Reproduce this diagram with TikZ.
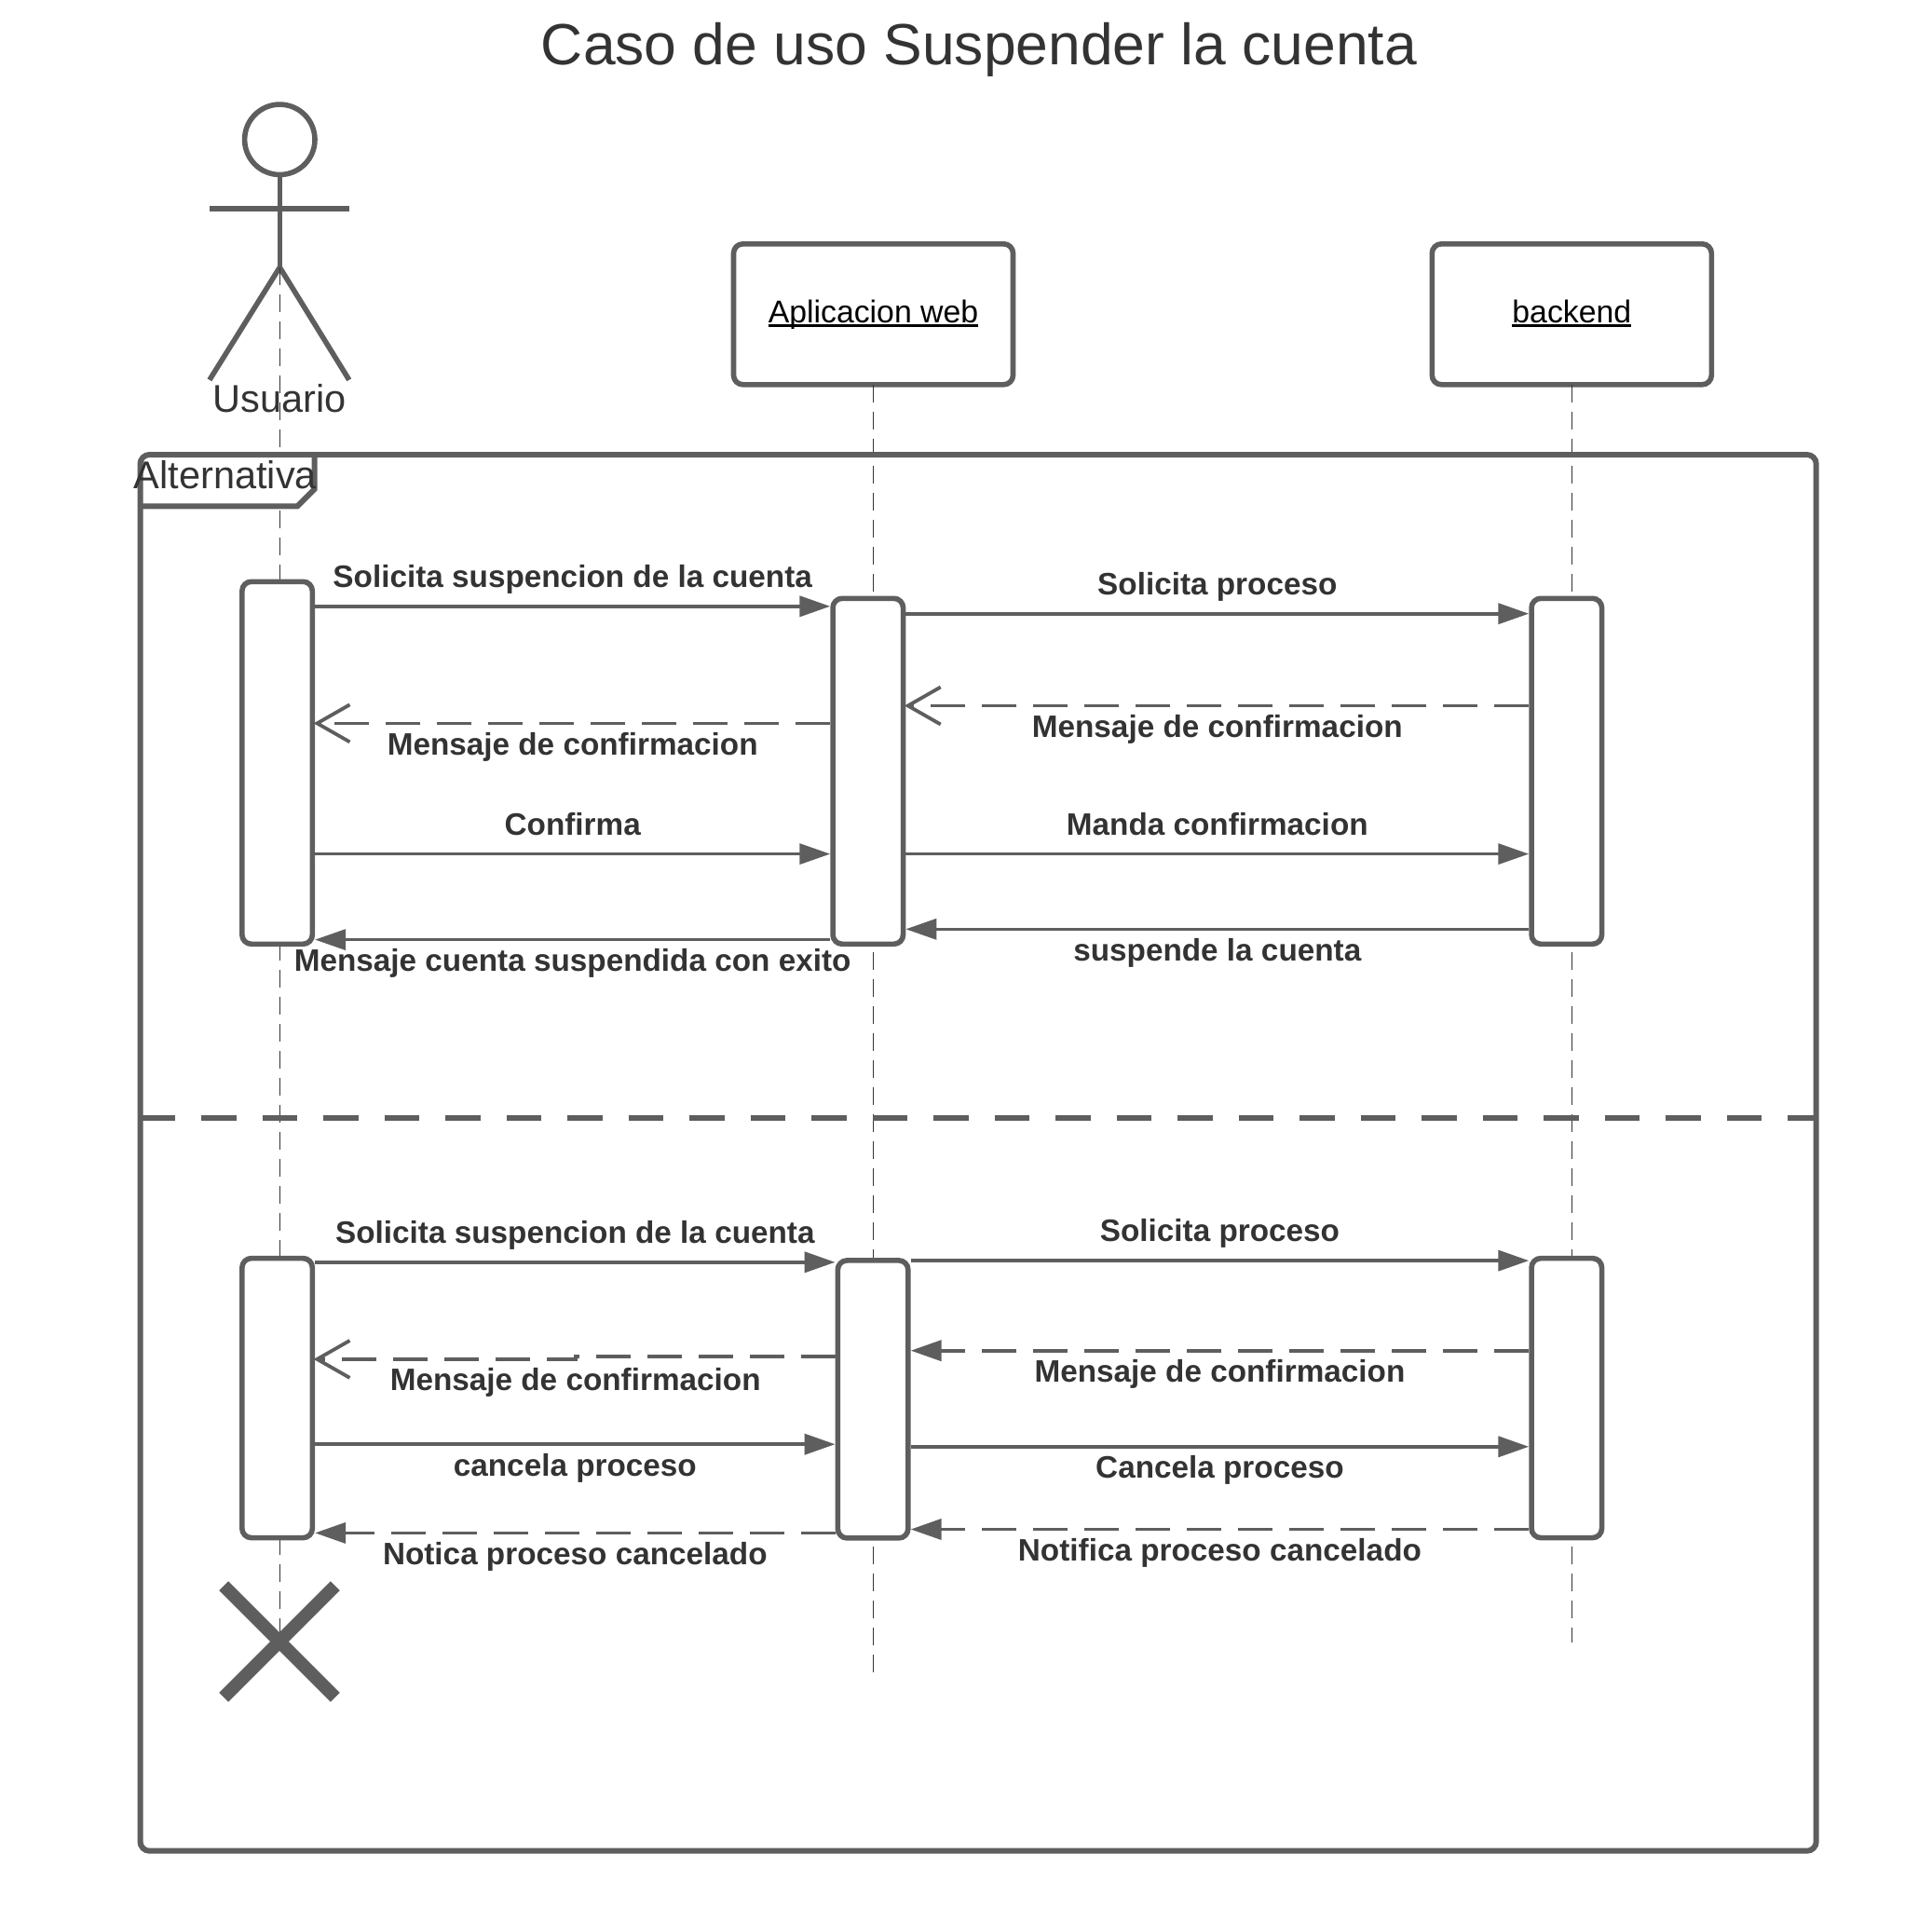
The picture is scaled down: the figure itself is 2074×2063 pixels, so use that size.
\documentclass[tikz,border=0pt]{standalone}
\usepackage{fontspec}
\setmainfont{Liberation Sans}
\usetikzlibrary{arrows.meta}
\usetikzlibrary{positioning}
\definecolor{linecolor}{HTML}{5E5E5E}
\definecolor{textcolor}{HTML}{333333}
\newcommand{\underword}[1]{\setbox0\hbox{#1}\rlap{\rule[-5pt]{\wd0}{3pt}}\box0}
\tikzset{
  lifeline/.style={draw=textcolor, line width=1.5pt, dash pattern=on 19pt off 10pt},
  objbox/.style={draw=linecolor, fill=white, line width=5.6pt, rounded corners=10pt, minimum width=300pt, minimum height=151pt, inner sep=0, outer sep=0, text=black, text height=25pt, text depth=7pt, font=\fontsize{33.8}{40}\selectfont},
  actbox/.style={draw=linecolor, fill=white, line width=5.6pt, rounded corners=10pt, minimum width=75.5pt, inner sep=0, outer sep=2.8pt},
  msgsolid/.style={draw=linecolor, line width=3.8pt, -{Triangle[length=33pt,width=22pt]}},
  msgdash/.style={msgsolid, dash pattern=on 37pt off 18pt},
  msgopen/.style={draw=linecolor, line width=3.8pt, dash pattern=on 37pt off 18pt, shorten >=-1.5pt, -{Straight Barb[length=35pt,width=40pt]}},
  msgtext/.style={text=textcolor, inner sep=0, text height=24pt, text depth=7pt, font=\bfseries\fontsize{33.3}{38}\selectfont},
  up/.style={msgtext, midway, yshift=29pt},
  down/.style={msgtext, midway, yshift=-25.5pt},
  plaintext/.style={text=textcolor, inner sep=0, font=\fontsize{41.5}{48}\selectfont}
}
\begin{document}
\begin{tikzpicture}[x=1pt, y=-1pt]
    \useasboundingbox (0,0) rectangle (2074,2063);

    % Title and actor
    \node[text=textcolor, inner sep=0, font=\fontsize{62.4}{72}\selectfont] (title) at (1051,53) {Caso de uso Suspender la cuenta};
    \node[draw=linecolor, circle, line width=5.6pt, minimum size=75.4pt, inner sep=0, outer sep=0] (head) at (300.3,149.8) {};
    \coordinate (hip) at (300.3,287);
    \coordinate (armL) at (224.9,223.8);
    \coordinate (armR) at (374.8,223.8);
    \coordinate (footL) at (224.9,407.8);
    \coordinate (footR) at (374.8,407.8);
    \draw[linecolor, line width=5.6pt] (head.south) -- (hip);
    \draw[linecolor, line width=5.6pt] (armL) -- (armR);
    \draw[linecolor, line width=5.6pt] (footL) -- (hip) -- (footR);

    % Lifelines
    \node[objbox] (app) at (937.5,337.3) {\underword{Aplicacion web}};
    \node[objbox] (back) at (1687.3,337.3) {\underword{backend}};
    \coordinate (endUser) at (300.3,1763);
    \coordinate (endApp) at (937.5,1802);
    \coordinate (endBack) at (1687.3,1763);
    \draw[lifeline] (hip) -- (endUser);
    \draw[lifeline] (app.south) -- (endApp);
    \draw[lifeline] (back.south) -- (endBack);
    \node[plaintext] (user) at (300.3,427.2) {Usuario};

    % Frame
    \fill[white] (150,488) -- (337.7,488) -- (337.7,525) -- (319.3,543.3) -- (150,543.3) -- cycle;
    \draw[linecolor, line width=6pt, rounded corners=10pt] (150.5,488) rectangle (1949.7,1986.7);
    \draw[linecolor, line width=6pt] (337.7,488) -- (337.7,525) -- (319.3,543.3) -- (150.5,543.3);
    \node[plaintext, anchor=base] (alt) at (242,524) {Alternativa};
    \coordinate (sepL) at (150.5,1199.7);
    \coordinate (sepR) at (1949.7,1199.7);
    \draw[linecolor, line width=6pt, dash pattern=on 37.5pt off 28pt] (sepL) -- (sepR);

    % Activations
    \node[actbox, minimum height=389pt] (userA) at (297.6,818.8) {};
    \node[actbox, minimum height=371pt] (appA) at (931.8,827.8) {};
    \node[actbox, minimum height=371pt] (backA) at (1681.8,827.8) {};
    \node[actbox, minimum height=300pt] (userB) at (297.6,1500.6) {};
    \node[actbox, minimum height=298pt] (appB) at (937.1,1501.9) {};
    \node[actbox, minimum height=300pt] (backB) at (1681.8,1500.6) {};

    % Connecting lines, first part
    \draw[msgsolid] (userA.east |- 0,650.8) -- (appA.west |- 0,650.8) node[up] (m1) {Solicita suspencion de la cuenta};
    \draw[msgsolid] (appA.east |- 0,658.7) -- (backA.west |- 0,658.7) node[up] (m2) {Solicita proceso};
    \draw[msgopen] (backA.west |- 0,757.5) -- (appA.east |- 0,757.5) node[down] (m3) {Mensaje de confirmacion};
    \draw[msgopen] (appA.west |- 0,776.4) -- (userA.east |- 0,776.4) node[down] (m4) {Mensaje de confirmacion};
    \draw[msgsolid, line width=3.4pt] (userA.east |- 0,916.6) -- (appA.west |- 0,916.6) node[up] (m5) {Confirma};
    \draw[msgsolid, line width=3.4pt] (appA.east |- 0,916.6) -- (backA.west |- 0,916.6) node[up] (m6) {Manda confirmacion};
    \draw[msgsolid, line width=3.4pt] (backA.west |- 0,997.3) -- (appA.east |- 0,997.3) node[down] (m7) {suspende la cuenta};
    \draw[msgsolid, line width=3.4pt] (appA.west |- 0,1008.6) -- (userA.east |- 0,1008.6) node[down] (m8) {Mensaje cuenta suspendida con exito};

    % Connecting lines, second part
    \draw[msgsolid] (userB.east |- 0,1354.8) -- (appB.west |- 0,1354.8) node[up] (m9) {Solicita suspencion de la cuenta};
    \draw[msgsolid] (appB.east |- 0,1353.1) -- (backB.west |- 0,1353.1) node[up] (m10) {Solicita proceso};
    \draw[msgdash] (backB.west |- 0,1449.7) -- (appB.east |- 0,1449.7) node[down] (m11) {Mensaje de confirmacion};
    \coordinate (jog) at (617.7,1458.9);
    \draw[msgopen] (appB.west |- 0,1456.3) -| (jog) -- (userB.east |- jog);
    \node[msgtext, yshift=-25.5pt] (m12) at (jog) {Mensaje de confirmacion};
    \draw[msgsolid] (userB.east |- 0,1550.2) -- (appB.west |- 0,1550.2) node[down] (m13) {cancela proceso};
    \draw[msgsolid] (appB.east |- 0,1552.8) -- (backB.west |- 0,1552.8) node[down] (m14) {Cancela proceso};
    \draw[msgdash] (backB.west |- 0,1641.5) -- (appB.east |- 0,1641.5) node[down] (m15) {Notifica proceso cancelado};
    \draw[msgdash] (appB.west |- 0,1645.4) -- (userB.east |- 0,1645.4) node[down] (m16) {Notica proceso cancelado};

    % End of the user
    \coordinate (crossA) at (240.2,1702.2);
    \coordinate (crossB) at (359.8,1821.8);
    \coordinate (crossC) at (359.8,1702.2);
    \coordinate (crossD) at (240.2,1821.8);
    \draw[linecolor, line width=14pt] (crossA) -- (crossB);
    \draw[linecolor, line width=14pt] (crossC) -- (crossD);
\end{tikzpicture}
\end{document}
